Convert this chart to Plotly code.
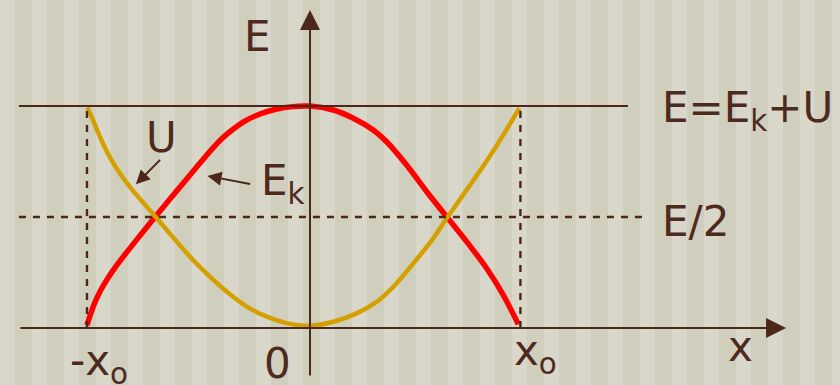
import plotly.graph_objects as go

# ---------------- data ----------------
# x in units of the right turning point x0, energy in units of total E
x_ek = [-1.062, -1.033, -1.0, -0.962, -0.919, -0.857, -0.786, -0.729, -0.667, -0.595, -0.524, -0.467,
        -0.419, -0.371, -0.310, -0.238, -0.167, -0.095, 0.0,
        0.111, 0.206, 0.301, 0.365, 0.460, 0.556, 0.651, 0.746, 0.841, 0.920, 0.992]
y_ek = [0.013, 0.095, 0.164, 0.225, 0.284, 0.360, 0.444, 0.510, 0.581, 0.662, 0.743, 0.806,
        0.854, 0.892, 0.932, 0.964, 0.984, 0.996, 1.0,
        0.982, 0.945, 0.892, 0.839, 0.734, 0.614, 0.501, 0.389, 0.269, 0.149, 0.017]

x_u = [-1.060, -1.038, -1.014, -0.981, -0.948, -0.905, -0.857, -0.800, -0.735, -0.676, -0.619, -0.557,
       -0.492, -0.397, -0.301, -0.206, -0.111, 0.0,
       0.111, 0.222, 0.318, 0.397, 0.492, 0.587, 0.651, 0.746, 0.841, 0.920, 0.997]
y_u = [0.994, 0.947, 0.891, 0.821, 0.761, 0.696, 0.635, 0.571, 0.500, 0.435, 0.372, 0.306,
       0.245, 0.164, 0.096, 0.051, 0.022, 0.010,
       0.028, 0.066, 0.118, 0.186, 0.291, 0.404, 0.494, 0.622, 0.752, 0.869, 0.990]

E_TOTAL = 1.0
E_HALF = 0.5
X0_LEFT = -1.062
X0_RIGHT = 1.002

# ---------------- style ----------------
BROWN = "#4b2619"
TEXT = "#4e2a1e"
RED = "#ff0000"
GOLD = "#d4a000"
LIGHT = "#d9d7c9"
DARK = "#d0cfbd"
FONT = "DejaVu Sans"
FS = 42

W, H = 840, 385
XR = [-1.4762, 2.5238]
YR = [-0.2568, 1.4775]

fig = go.Figure()

fig.add_trace(go.Scatter(x=x_ek, y=y_ek, mode="lines",
                         line=dict(color=RED, width=5.5, shape="spline", smoothing=0.8),
                         hoverinfo="skip", showlegend=False))
fig.add_trace(go.Scatter(x=x_u, y=y_u, mode="lines",
                         line=dict(color=GOLD, width=4.5, shape="spline", smoothing=0.8),
                         hoverinfo="skip", showlegend=False))

shapes = []
# background stripes
for left in range(15, W, 32):
    shapes.append(dict(type="rect", xref="paper", yref="paper", x0=left / W, x1=(left + 17) / W,
                       y0=0, y1=1, fillcolor=DARK, line=dict(width=0), layer="below"))
# total energy line
shapes.append(dict(type="line", xref="x", yref="y", x0=-1.386, x1=1.514, y0=E_TOTAL, y1=E_TOTAL,
                   line=dict(color=BROWN, width=2.2)))
# E/2 dashed line
shapes.append(dict(type="line", xref="x", yref="y", x0=-1.386, x1=1.586, y0=E_HALF, y1=E_HALF,
                   line=dict(color=BROWN, width=2.4, dash="7px,7px")))
# turning point dashed verticals
for xv in (X0_LEFT, X0_RIGHT):
    shapes.append(dict(type="line", xref="x", yref="y", x0=xv, x1=xv, y0=0, y1=E_TOTAL,
                       line=dict(color=BROWN, width=2.4, dash="7px,7px")))

annotations = []
# axes with arrows
annotations.append(dict(x=2.267, y=0, ax=-1.386, ay=0, xref="x", yref="y", axref="x", ayref="y",
                        text="", showarrow=True, arrowhead=2, arrowsize=2, arrowwidth=2,
                        arrowcolor=BROWN, standoff=0, startstandoff=0))
annotations.append(dict(x=0, y=1.432, ax=0, ay=-0.221, xref="x", yref="y", axref="x", ayref="y",
                        text="", showarrow=True, arrowhead=2, arrowsize=2, arrowwidth=2,
                        arrowcolor=BROWN, standoff=0, startstandoff=0))
# label arrows
annotations.append(dict(x=-0.829, y=0.647, ax=-0.707, ay=0.764, xref="x", yref="y", axref="x", ayref="y",
                        text="", showarrow=True, arrowhead=2, arrowsize=1.4, arrowwidth=2,
                        arrowcolor=BROWN, standoff=0))
annotations.append(dict(x=-0.488, y=0.685, ax=-0.278, ay=0.647, xref="x", yref="y", axref="x", ayref="y",
                        text="", showarrow=True, arrowhead=2, arrowsize=1.4, arrowwidth=2,
                        arrowcolor=BROWN, standoff=0))


def label(txt, x, y, xanchor="center", yanchor="middle"):
    annotations.append(dict(x=x, y=y, xref="x", yref="y", text=txt, showarrow=False,
                            xanchor=xanchor, yanchor=yanchor,
                            font=dict(family=FONT, size=FS, color=TEXT)))


label("E", -0.248, 1.315)
label("E=E<sub>k</sub>+U", 1.667, 0.980, xanchor="left")
label("E/2", 1.667, 0.480, xanchor="left")
label("U", -0.707, 0.858)
label("E<sub>k</sub>", -0.243, 0.649, xanchor="left")
label("-x<sub>o</sub>", -1.152, -0.160, xanchor="left")
label("0", -0.155, -0.158)
label("x<sub>o</sub>", 0.962, -0.113, xanchor="left")
label("x", 2.048, -0.083)

fig.update_layout(
    width=W, height=H,
    margin=dict(l=0, r=0, t=0, b=0),
    paper_bgcolor=LIGHT, plot_bgcolor=LIGHT,
    xaxis=dict(range=XR, visible=False, fixedrange=True),
    yaxis=dict(range=YR, visible=False, fixedrange=True),
    shapes=shapes, annotations=annotations,
    showlegend=False,
)

fig.write_html(
    "out.html",
    config={"displayModeBar": False},
    post_script="document.body.style.margin='0';document.body.style.overflow='hidden';",
)
